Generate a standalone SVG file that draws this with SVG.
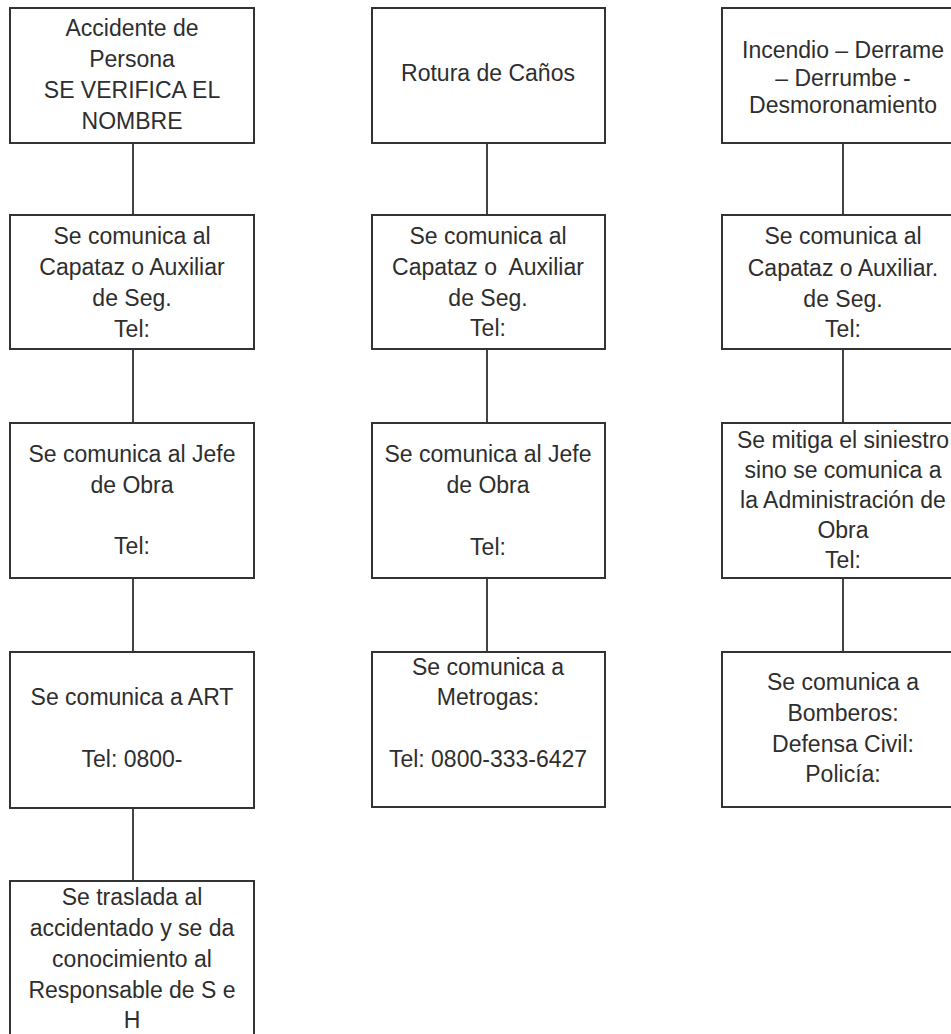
<svg xmlns="http://www.w3.org/2000/svg" width="951" height="1034" viewBox="0 0 951 1034">
<style>
.box{fill:#fff;stroke:#333;stroke-width:2}
.t{font-family:"Liberation Sans",Arial,sans-serif;font-size:23px;fill:#2e2e2e;text-anchor:middle}
.c{stroke:#444;stroke-width:2;fill:none}
</style>
<rect width="951" height="1034" fill="#fff"/>
<g id="connectors">
<line class="c" x1="133" y1="143" x2="133" y2="215"/>
<line class="c" x1="133" y1="349" x2="133" y2="423"/>
<line class="c" x1="133" y1="578" x2="133" y2="652"/>
<line class="c" x1="133" y1="808" x2="133" y2="881"/>
<line class="c" x1="487" y1="143" x2="487" y2="215"/>
<line class="c" x1="487" y1="349" x2="487" y2="423"/>
<line class="c" x1="487" y1="578" x2="487" y2="652"/>
<line class="c" x1="843" y1="143" x2="843" y2="215"/>
<line class="c" x1="843" y1="349" x2="843" y2="423"/>
<line class="c" x1="843" y1="578" x2="843" y2="652"/>
</g>
<g id="n-accidente">
<rect class="box" x="10" y="8" width="244" height="135"/>
<text class="t" x="132" y="36">Accidente de</text>
<text class="t" x="132" y="67">Persona</text>
<text class="t" x="132" y="98">SE VERIFICA EL</text>
<text class="t" x="132" y="129">NOMBRE</text>
</g>
<g id="n-capataz-1">
<rect class="box" x="10" y="215" width="244" height="134"/>
<text class="t" x="132" y="244">Se comunica al</text>
<text class="t" x="132" y="275">Capataz o Auxiliar</text>
<text class="t" x="132" y="306">de Seg.</text>
<text class="t" x="132" y="337">Tel:</text>
</g>
<g id="n-jefe-1">
<rect class="box" x="10" y="423" width="244" height="155"/>
<text class="t" x="132" y="462">Se comunica al Jefe</text>
<text class="t" x="132" y="493">de Obra</text>
<text class="t" x="132" y="554">Tel:</text>
</g>
<g id="n-art">
<rect class="box" x="10" y="652" width="244" height="156"/>
<text class="t" x="132" y="705">Se comunica a ART</text>
<text class="t" x="132" y="767">Tel: 0800-</text>
</g>
<g id="n-traslada">
<rect class="box" x="10" y="881" width="244" height="170"/>
<text class="t" x="132" y="905">Se traslada al</text>
<text class="t" x="132" y="936">accidentado y se da</text>
<text class="t" x="132" y="967">conocimiento al</text>
<text class="t" x="132" y="998">Responsable de S e</text>
<text class="t" x="132" y="1028">H</text>
</g>
<g id="n-rotura">
<rect class="box" x="372" y="8" width="233" height="135"/>
<text class="t" x="488" y="81">Rotura de Caños</text>
</g>
<g id="n-capataz-2">
<rect class="box" x="372" y="215" width="233" height="134"/>
<text class="t" x="488" y="244">Se comunica al</text>
<text class="t" x="488" y="275" xml:space="preserve">Capataz o  Auxiliar</text>
<text class="t" x="488" y="306">de Seg.</text>
<text class="t" x="488" y="336">Tel:</text>
</g>
<g id="n-jefe-2">
<rect class="box" x="372" y="423" width="233" height="155"/>
<text class="t" x="488" y="462">Se comunica al Jefe</text>
<text class="t" x="488" y="493">de Obra</text>
<text class="t" x="488" y="555">Tel:</text>
</g>
<g id="n-metrogas">
<rect class="box" x="372" y="652" width="233" height="155"/>
<text class="t" x="488" y="675">Se comunica a</text>
<text class="t" x="488" y="705">Metrogas:</text>
<text class="t" x="488" y="767">Tel: 0800-333-6427</text>
</g>
<g id="n-incendio">
<rect class="box" x="722" y="8" width="245" height="135"/>
<text class="t" x="843" y="58">Incendio – Derrame</text>
<text class="t" x="843" y="86">– Derrumbe -</text>
<text class="t" x="843" y="113">Desmoronamiento</text>
</g>
<g id="n-capataz-3">
<rect class="box" x="722" y="215" width="245" height="134"/>
<text class="t" x="843" y="244">Se comunica al</text>
<text class="t" x="843" y="276">Capataz o Auxiliar.</text>
<text class="t" x="843" y="307">de Seg.</text>
<text class="t" x="843" y="337">Tel:</text>
</g>
<g id="n-mitiga">
<rect class="box" x="722" y="423" width="245" height="155"/>
<text class="t" x="843" y="448">Se mitiga el siniestro</text>
<text class="t" x="843" y="478">sino se comunica a</text>
<text class="t" x="843" y="508">la Administración de</text>
<text class="t" x="843" y="538">Obra</text>
<text class="t" x="843" y="568">Tel:</text>
</g>
<g id="n-bomberos">
<rect class="box" x="722" y="652" width="245" height="155"/>
<text class="t" x="843" y="690">Se comunica a</text>
<text class="t" x="843" y="721">Bomberos:</text>
<text class="t" x="843" y="752">Defensa Civil:</text>
<text class="t" x="843" y="782">Policía:</text>
</g>
</svg>
